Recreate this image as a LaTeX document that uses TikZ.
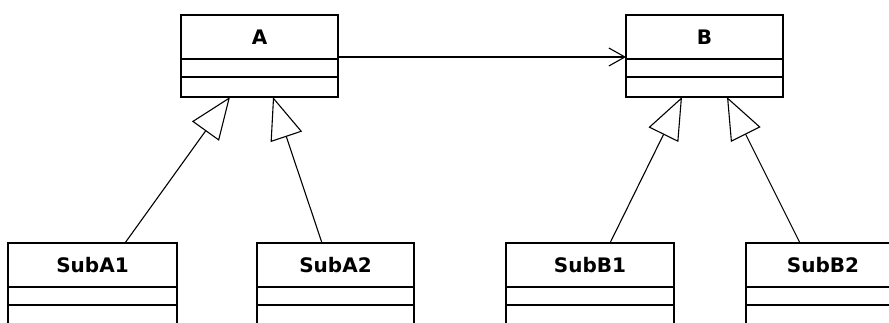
\documentclass[tikz,border=0pt]{standalone}
\usepackage{fontspec}
\setmainfont{DejaVu Sans}
\usetikzlibrary{arrows.meta,calc}
\tikzset{
  cls/.style={draw, line width=1.3pt, minimum height=44pt, inner sep=0pt, outer sep=0pt, anchor=north west,
    font=\fontsize{20}{21}\selectfont\bfseries},
  comp/.style={draw, line width=1.3pt},
  inherit/.style={line width=1.1pt, -{Triangle[open, length=42pt, width=33pt]}},
  assoc/.style={line width=1.1pt, -{Straight Barb[length=16pt, width=18pt, line width=1.1pt]}}
}
\newcommand{\compartments}[1]{%
  \draw[comp] (#1.south west) rectangle ($(#1.south east)+(0,18)$);
  \draw[comp] ($(#1.south west)+(0,18)$) rectangle ($(#1.south east)+(0,38)$);
}
\begin{document}
\begin{tikzpicture}[x=1pt, y=-1pt]
\clip (0,0) rectangle (889,322);
\fill[white] (0,0) rectangle (889,322);
% top classes
\node[cls, minimum width=157pt] (A) at (181,15) {A};
\compartments{A}
\node[cls, minimum width=157pt] (B) at (626,15) {B};
\compartments{B}
% subclasses
\node[cls, minimum width=169pt] (SA1) at (8,243) {SubA1};
\compartments{SA1}
\node[cls, minimum width=157pt] (SA2) at (257,243) {SubA2};
\compartments{SA2}
\node[cls, minimum width=168pt] (SB1) at (506,243) {SubB1};
\compartments{SB1}
\node[cls, minimum width=154pt] (SB2) at (746,243) {SubB2};
\compartments{SB2}
% association
\draw[assoc] ($(A.south east)+(0,-2)$) -- ($(B.south west)+(0,-2)$);
% generalizations
\draw[inherit] ($(SA1.north west)+(117,0)$) -- ($(A.south west)+(49,38)$);
\draw[inherit] ($(SA2.north west)+(65,0)$) -- ($(A.south west)+(92,38)$);
\draw[inherit] ($(SB1.north west)+(104,0)$) -- ($(B.south west)+(56,38)$);
\draw[inherit] ($(SB2.north west)+(54,0)$) -- ($(B.south west)+(101,38)$);
\end{tikzpicture}
\end{document}
